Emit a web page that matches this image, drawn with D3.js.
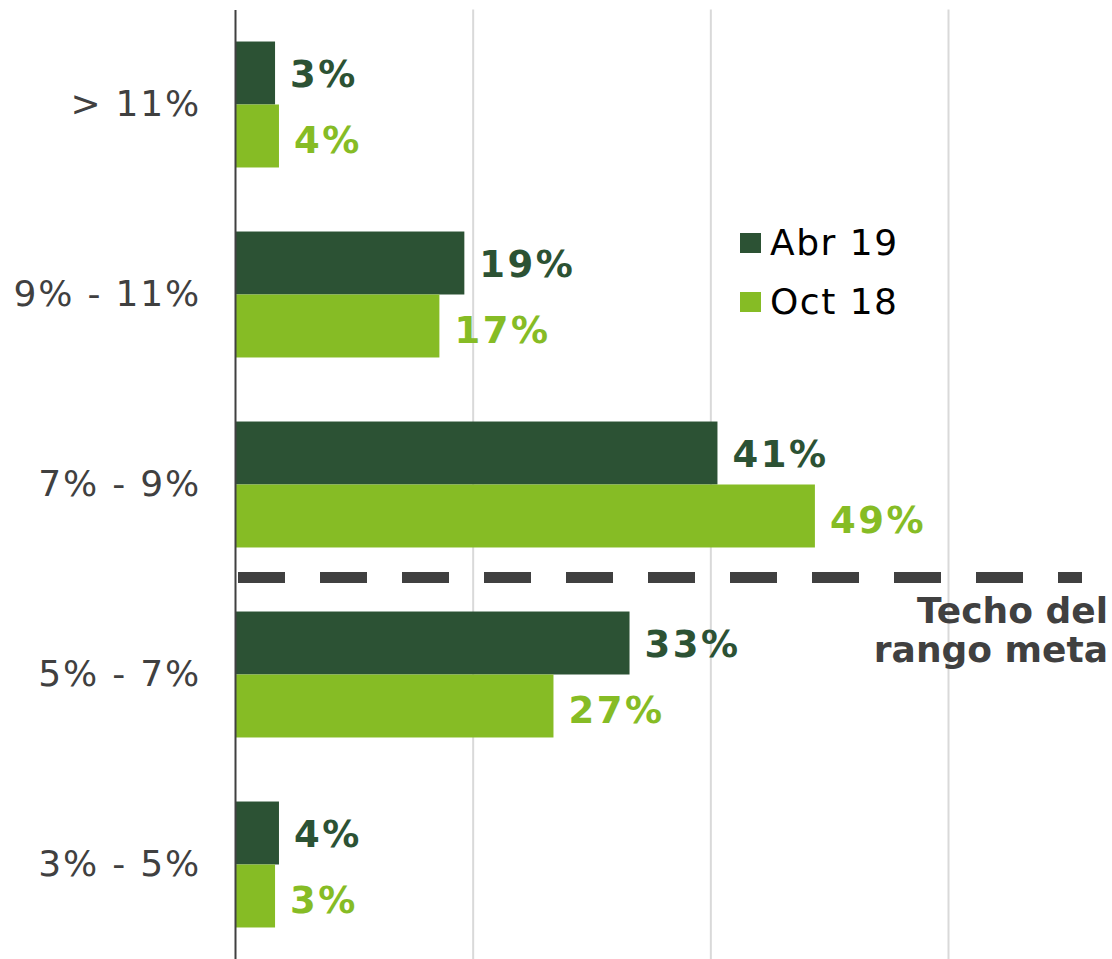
<!DOCTYPE html>
<html>
<head>
<meta charset="utf-8">
<script src="https://cdn.jsdelivr.net/npm/d3@7"></script>
<style>
  body { margin: 0; background: #fff; }
  svg { display: block; font-family: Verdana, "DejaVu Sans", sans-serif; }
</style>
</head>
<body>
<svg id="chart"></svg>
<script>
const WIDTH = 1112;
const HEIGHT = 959;

// Data
const categories = ["> 11%", "9% - 11%", "7% - 9%", "5% - 7%", "3% - 5%"];
const seriesNames = ["Abr 19", "Oct 18"];
const abr19 = [3.37, 19.3, 40.6, 33.2, 3.7];
const oct18 = [3.7, 17.2, 48.8, 26.8, 3.37];
const gridTicks = [20, 40, 60];
const refLabel = ["Techo del", "rango meta"];

const colors = { "Abr 19": "#2c5234", "Oct 18": "#86bc25" };

const svg = d3.select("#chart").attr("width", WIDTH).attr("height", HEIGHT);

const x = d3.scaleLinear().domain([0, 60]).range([235, 948]);
const y = d3.scaleBand().domain(categories).range([9.5, 959.5])
  .paddingInner(0.337).paddingOuter(0.1685);
const ySub = d3.scaleBand().domain(seriesNames).range([0, y.bandwidth()]);

const rows = categories.map((c, i) => ({ cat: c, values: [
  { name: "Abr 19", v: abr19[i] },
  { name: "Oct 18", v: oct18[i] }
]}));

// gridlines
const grid = svg.append("g")
  .attr("transform", "translate(0," + y.range()[1] + ")")
  .call(d3.axisBottom(x).tickValues(gridTicks).tickSize(-(y.range()[1] - y.range()[0])).tickFormat(""));
grid.select(".domain").remove();
grid.selectAll("line").attr("stroke", "#d9d9d9").attr("stroke-width", 2);

// bars
const groups = svg.append("g").selectAll("g")
  .data(rows).enter().append("g")
  .attr("transform", d => "translate(0," + y(d.cat) + ")");

groups.selectAll("rect")
  .data(d => d.values).enter().append("rect")
  .attr("x", x(0))
  .attr("y", d => ySub(d.name))
  .attr("width", d => x(d.v) - x(0))
  .attr("height", ySub.bandwidth())
  .attr("fill", d => colors[d.name]);

groups.selectAll("text")
  .data(d => d.values).enter().append("text")
  .attr("x", d => x(d.v) + 15)
  .attr("y", d => ySub(d.name) + ySub.bandwidth() / 2)
  .attr("dy", (d, i) => i === 0 ? "0.38em" : "0.46em")
  .attr("font-size", 37)
  .attr("font-weight", "bold")
  .attr("letter-spacing", 2.5)
  .attr("fill", d => colors[d.name])
  .text(d => d3.format(".0f")(d.v) + "%");

// y axis
const yAxis = svg.append("g")
  .attr("transform", "translate(" + x(0) + ",0)")
  .call(d3.axisLeft(y).tickSize(0).tickSizeOuter(0).tickPadding(34));
yAxis.select(".domain").attr("stroke", "#404040").attr("stroke-width", 2);
yAxis.selectAll("text")
  .attr("font-size", 36)
  .attr("font-family", "Verdana, 'DejaVu Sans', sans-serif")
  .attr("letter-spacing", 1.8)
  .attr("fill", "#404040");

// target ceiling line
const refY = y(categories[3]) - (y.step() - y.bandwidth()) / 2 - 2;
svg.append("line")
  .attr("x1", x(0) + 3)
  .attr("x2", WIDTH - 30)
  .attr("y1", refY)
  .attr("y2", refY)
  .attr("stroke", "#404040")
  .attr("stroke-width", 11)
  .attr("stroke-dasharray", "47,35");

svg.append("text")
  .attr("x", WIDTH - 4)
  .attr("y", refY + 45)
  .attr("text-anchor", "end")
  .attr("font-size", 36)
  .attr("font-weight", "bold")
  .attr("fill", "#404040")
  .selectAll("tspan")
  .data(refLabel).enter().append("tspan")
  .attr("x", WIDTH - 4)
  .attr("dy", (d, i) => i === 0 ? 0 : 39)
  .text(d => d);

// legend
const legend = svg.append("g").attr("transform", "translate(740,233)");
const items = legend.selectAll("g").data(seriesNames).enter().append("g")
  .attr("transform", (d, i) => "translate(0," + i * 59 + ")");
items.append("rect")
  .attr("width", 21).attr("height", 20)
  .attr("fill", d => colors[d]);
items.append("text")
  .attr("x", 30)
  .attr("y", 22)
  .attr("font-size", 36)
  .attr("letter-spacing", 1.5)
  .attr("fill", "#000")
  .text(d => d);
</script>
</body>
</html>
